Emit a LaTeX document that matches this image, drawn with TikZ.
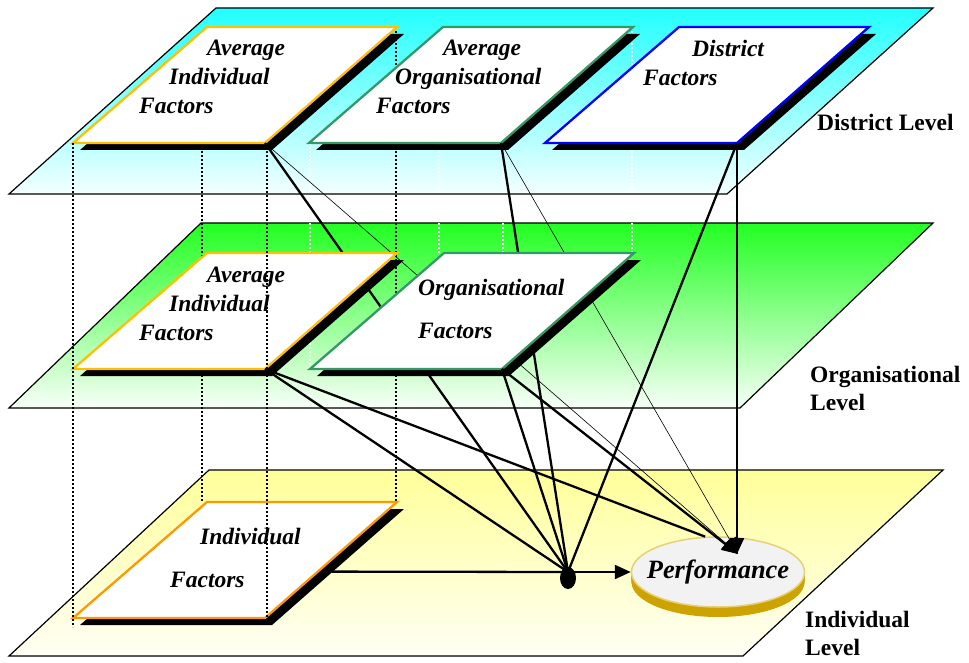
\documentclass[tikz,border=0pt]{standalone}
\usepackage{fontspec}
\setmainfont{Liberation Serif}
\usetikzlibrary{arrows.meta,shapes.geometric,calc}

\definecolor{distcyan}{RGB}{34,255,255}
\definecolor{orggreen}{RGB}{34,255,34}
\definecolor{indyellow}{RGB}{255,255,153}
\definecolor{goldline}{RGB}{255,192,0}
\definecolor{seagreen}{RGB}{51,153,102}
\definecolor{indorange}{RGB}{255,153,0}
\definecolor{rimgold}{RGB}{204,163,0}
\definecolor{faceedge}{RGB}{232,208,120}
\definecolor{facegray}{RGB}{242,242,242}

\tikzset{
  plane/.style={draw=black, line width=1.2pt},
  factor/.style={fill=white, line width=2.3pt},
  boxtext/.style={font=\fontsize{23.5}{29}\selectfont\bfseries\itshape,
    align=left, anchor=north west, inner sep=0pt},
  leveltext/.style={font=\fontsize{23.5}{28}\selectfont\bfseries,
    align=left, anchor=north west, inner sep=0pt},
  thickline/.style={line width=2.3pt},
  thinline/.style={line width=0.6pt},
  proj/.style={line width=1.6pt, dash pattern=on 1.6pt off 2.4pt},
  perfnode/.style={ellipse, fill=facegray, draw=faceedge, line width=1.5pt,
    minimum width=173pt, minimum height=70pt, inner sep=0pt,
    font=\fontsize{26.4}{30}\selectfont\bfseries\itshape},
  hubdot/.style={ellipse, fill=black, minimum width=16pt, minimum height=22pt, inner sep=0pt},
}

% parallelogram with its shadow: name, bottom left corner, colour
\newcommand\factorbox[3]{%
  \begin{scope}[shift={#2}]
    \fill (7,7) -- (199,7) -- (331,-109) -- (141,-109) -- cycle;
    \draw[factor, draw=#3] (0,0) coordinate (#1-bl) -- (192,0) coordinate (#1-br)
      -- (324,-116) coordinate (#1-tr) -- (134,-116) coordinate (#1-tl) -- cycle;
  \end{scope}}

\begin{document}
\begin{tikzpicture}[x=1pt,y=-1pt,>={Triangle[length=16pt,width=14pt]}]
\useasboundingbox (0,0) rectangle (969,663);

% levels
\shadedraw[plane, top color=distcyan, bottom color=distcyan!5] (216,8) -- (933,8) -- (727,194) -- (9,194) -- cycle;
\shadedraw[plane, top color=orggreen, bottom color=orggreen!3] (201,223) -- (933,223) -- (740,408) -- (9,408) -- cycle;
\shadedraw[plane, top color=indyellow, bottom color=indyellow!10] (209,470) -- (943,470) -- (743,656) -- (9,656) -- cycle;

\foreach \x/\ya/\yb in {310/143/369, 439/143/253, 503/143/369, 632/27/253}
  \draw[proj, white] (\x,\ya) -- (\x,\yb);
\foreach \x/\ya/\yb in {202/143/502, 396/27/502}
  \draw[proj] (\x,\ya) -- (\x,\yb);

% performance
\foreach \d in {10,9,...,1}
  \fill[rimgold] (718,572+\d) ellipse [x radius=86.5, y radius=35];
\node[perfnode] (perf) at (718,572) {\makebox[0pt]{Performance}};
\coordinate (perfin) at (738,554);
\coordinate (hub) at (568,572);

% district level
\factorbox{tai}{(73,143)}{goldline}
\factorbox{tao}{(309,143)}{seagreen}
\factorbox{tdf}{(545,143)}{blue}
\node[boxtext] (taitext) at (139,40) {\hspace*{68pt}Average\\\hspace*{30pt}Individual\\Factors};
\node[boxtext] (taotext) at (376,40) {\hspace*{67pt}Average\\\hspace*{19pt}Organisational\\Factors};
\node[boxtext] (tdftext) at (643,40) {\hspace*{49pt}District\\Factors};

\draw[thickline] (tai-br) -- (hub);
\draw[thinline,->] (tai-br) -- (perfin);
\draw[thickline] (tao-br) -- (hub);
\draw[thinline,->] (tao-br) -- (perfin);
\draw[thickline] (tdf-br) -- (hub);
\draw[thickline,->] (tdf-br) -- (tdf-br |- perfin);

% organisational level
\factorbox{mai}{(73,369)}{goldline}
\factorbox{mof}{(310,369)}{seagreen}
\node[boxtext] (maitext) at (139,267) {\hspace*{68pt}Average\\\hspace*{30pt}Individual\\Factors};
\node[boxtext] (moftext) at (418,279) {Organisational\\[14pt]Factors};

\draw[thickline] (mai-br) -- (hub);
\draw[thickline] (mai-br) -- (perf.110);
\draw[thickline] (mof-br) -- (hub);
\draw[thickline,->] (mof-br) -- (perfin);

% individual level
\factorbox{bif}{(73,618)}{indorange}
\node[boxtext] (biftext) at (170,528) {\hspace*{30pt}Individual\\[14pt]Factors};
\draw[thickline] ($(bif-br)!0.4!(bif-tr)+(14,0)$) -- (hub);

\foreach \x/\ya/\yb in {73/143/627, 267/143/620}
  \draw[proj] (\x,\ya) -- (\x,\yb);

\node[hubdot] (dot) at ($(hub)+(0,6)$) {};
\draw[thickline,->] (hub) -- (perf.west);

\node[leveltext] (distlvl) at (817,114) {District Level};
\node[leveltext] (orglvl) at (810,366) {Organisational\\Level};
\node[leveltext] (indlvl) at (805,611) {Individual\\Level};
\end{tikzpicture}
\end{document}
